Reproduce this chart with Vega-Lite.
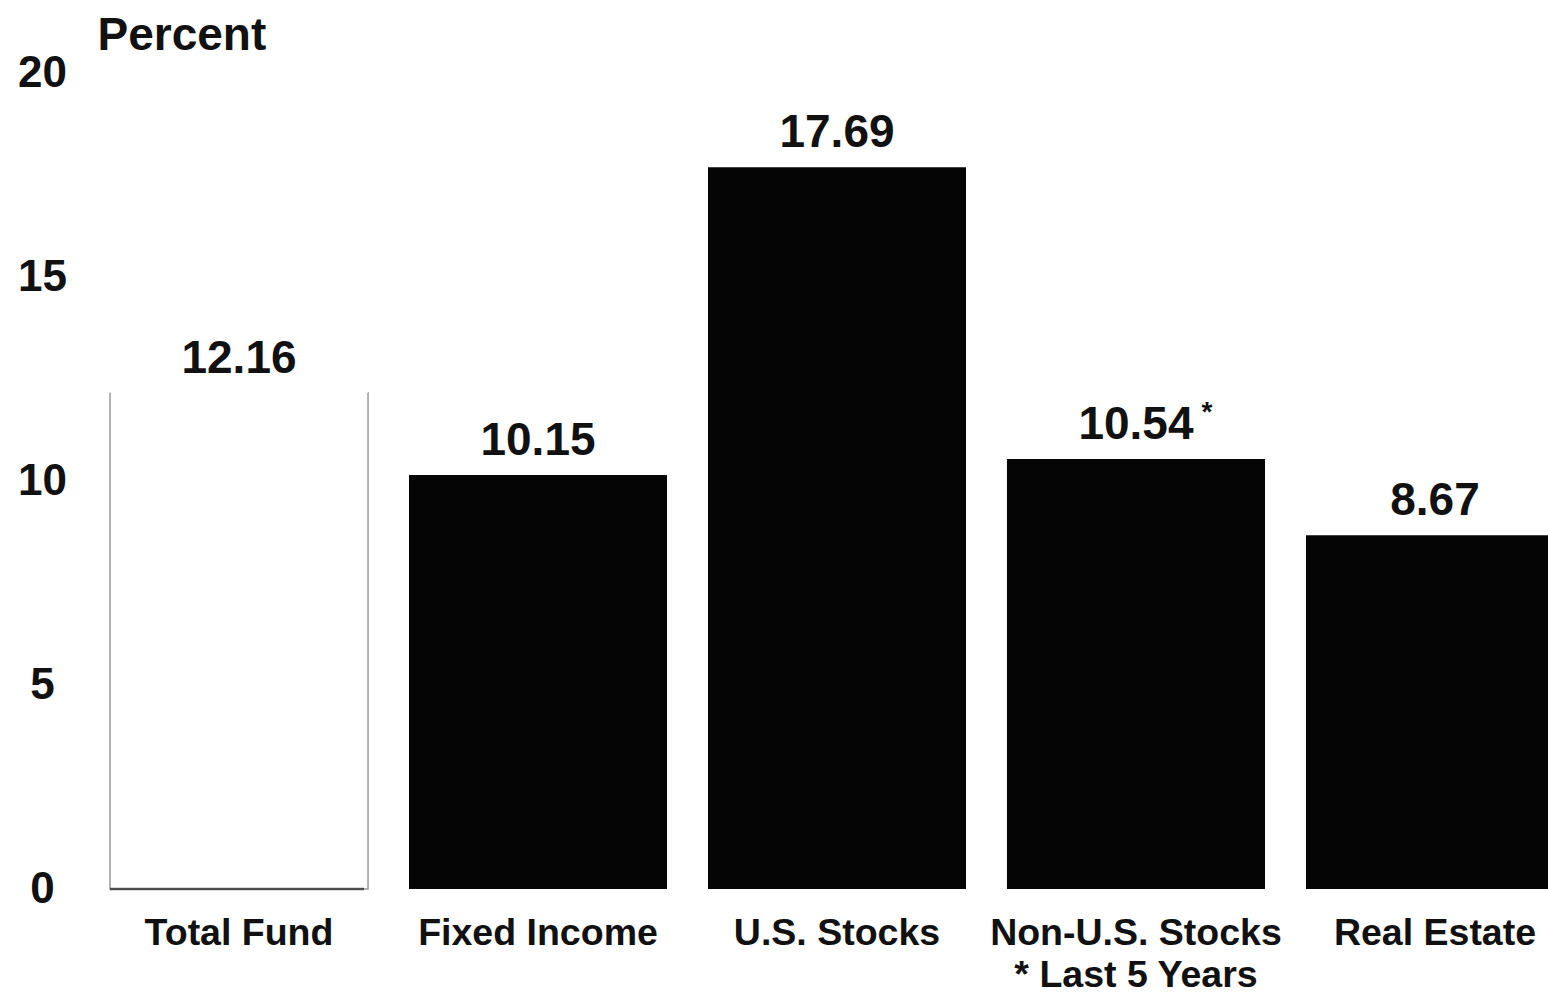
{
  "$schema": "https://vega.github.io/schema/vega-lite/v6.json",
  "autosize": {"type": "none"},
  "width": 1460,
  "height": 816,
  "padding": {"left": 88, "top": 73, "right": 0, "bottom": 107},
  "background": "white",
  "config": {
    "view": {"stroke": null},
    "font": "Liberation Sans",
    "text": {"font": "Liberation Sans"}
  },
  "data": {
    "values": [
      {"category": "Total Fund", "value": 12.16, "note": ""},
      {"category": "Fixed Income", "value": 10.15, "note": ""},
      {"category": "U.S. Stocks", "value": 17.69, "note": ""},
      {"category": "Non-U.S. Stocks", "value": 10.54, "note": "*"},
      {"category": "Real Estate", "value": 8.67, "note": ""}
    ]
  },
  "encoding": {
    "x": {
      "field": "category",
      "type": "nominal",
      "sort": ["Total Fund", "Fixed Income", "U.S. Stocks", "Non-U.S. Stocks", "Real Estate"],
      "scale": {"range": [0, 1498], "paddingInner": 0.137, "paddingOuter": 0.0736},
      "axis": {
        "title": null,
        "domain": false,
        "ticks": false,
        "labelAngle": 0,
        "labelFont": "Liberation Sans",
        "labelFontSize": 37.5,
        "labelFontWeight": "bold",
        "labelColor": "#111",
        "labelPadding": 44,
        "labelBaseline": "middle",
        "labelLimit": 500,
        "labelLineHeight": 42,
        "labelExpr": "datum.value == 'Non-U.S. Stocks' ? ['Non-U.S. Stocks', '* Last 5 Years'] : datum.value"
      }
    },
    "y": {
      "field": "value",
      "type": "quantitative",
      "scale": {"domain": [0, 20], "nice": false, "zero": true},
      "axis": {
        "title": "Percent",
        "titleAngle": 0,
        "titleX": 9,
        "titleY": -38,
        "titleAlign": "left",
        "titleBaseline": "middle",
        "titleFont": "Liberation Sans",
        "titleFontSize": 46,
        "titleFontWeight": "bold",
        "titleColor": "#111",
        "values": [0, 5, 10, 15, 20],
        "domain": false,
        "ticks": false,
        "grid": false,
        "labelAlign": "center",
        "labelBaseline": "middle",
        "labelPadding": 46,
        "labelFont": "Liberation Sans",
        "labelFontSize": 44,
        "labelFontWeight": "bold",
        "labelColor": "#111"
      }
    }
  },
  "layer": [
    {
      "transform": [{"filter": "datum.category != 'Total Fund'"}],
      "mark": {"type": "bar", "color": "#050505"}
    },
    {
      "transform": [{"filter": "datum.category == 'Total Fund'"}],
      "mark": {"type": "bar", "fill": "white", "stroke": "#9a9a9a", "strokeWidth": 1.5, "strokeDash": [0, 258, 3000]}
    },
    {
      "transform": [{"filter": "datum.category == 'Total Fund'"}],
      "mark": {"type": "tick", "orient": "horizontal", "size": 254, "thickness": 2.5, "color": "#222", "xOffset": -2},
      "encoding": {"y": {"datum": 0}}
    },
    {
      "mark": {"type": "text", "fontSize": 46, "fontWeight": "bold", "baseline": "alphabetic", "dy": -20, "color": "#111"},
      "encoding": {"text": {"field": "value", "type": "quantitative", "format": ".2f"}}
    },
    {
      "transform": [{"filter": "datum.note != ''"}],
      "mark": {"type": "text", "fontSize": 28, "fontWeight": "bold", "baseline": "alphabetic", "dy": -38, "dx": 71, "color": "#111"},
      "encoding": {"text": {"field": "note"}}
    }
  ]
}
